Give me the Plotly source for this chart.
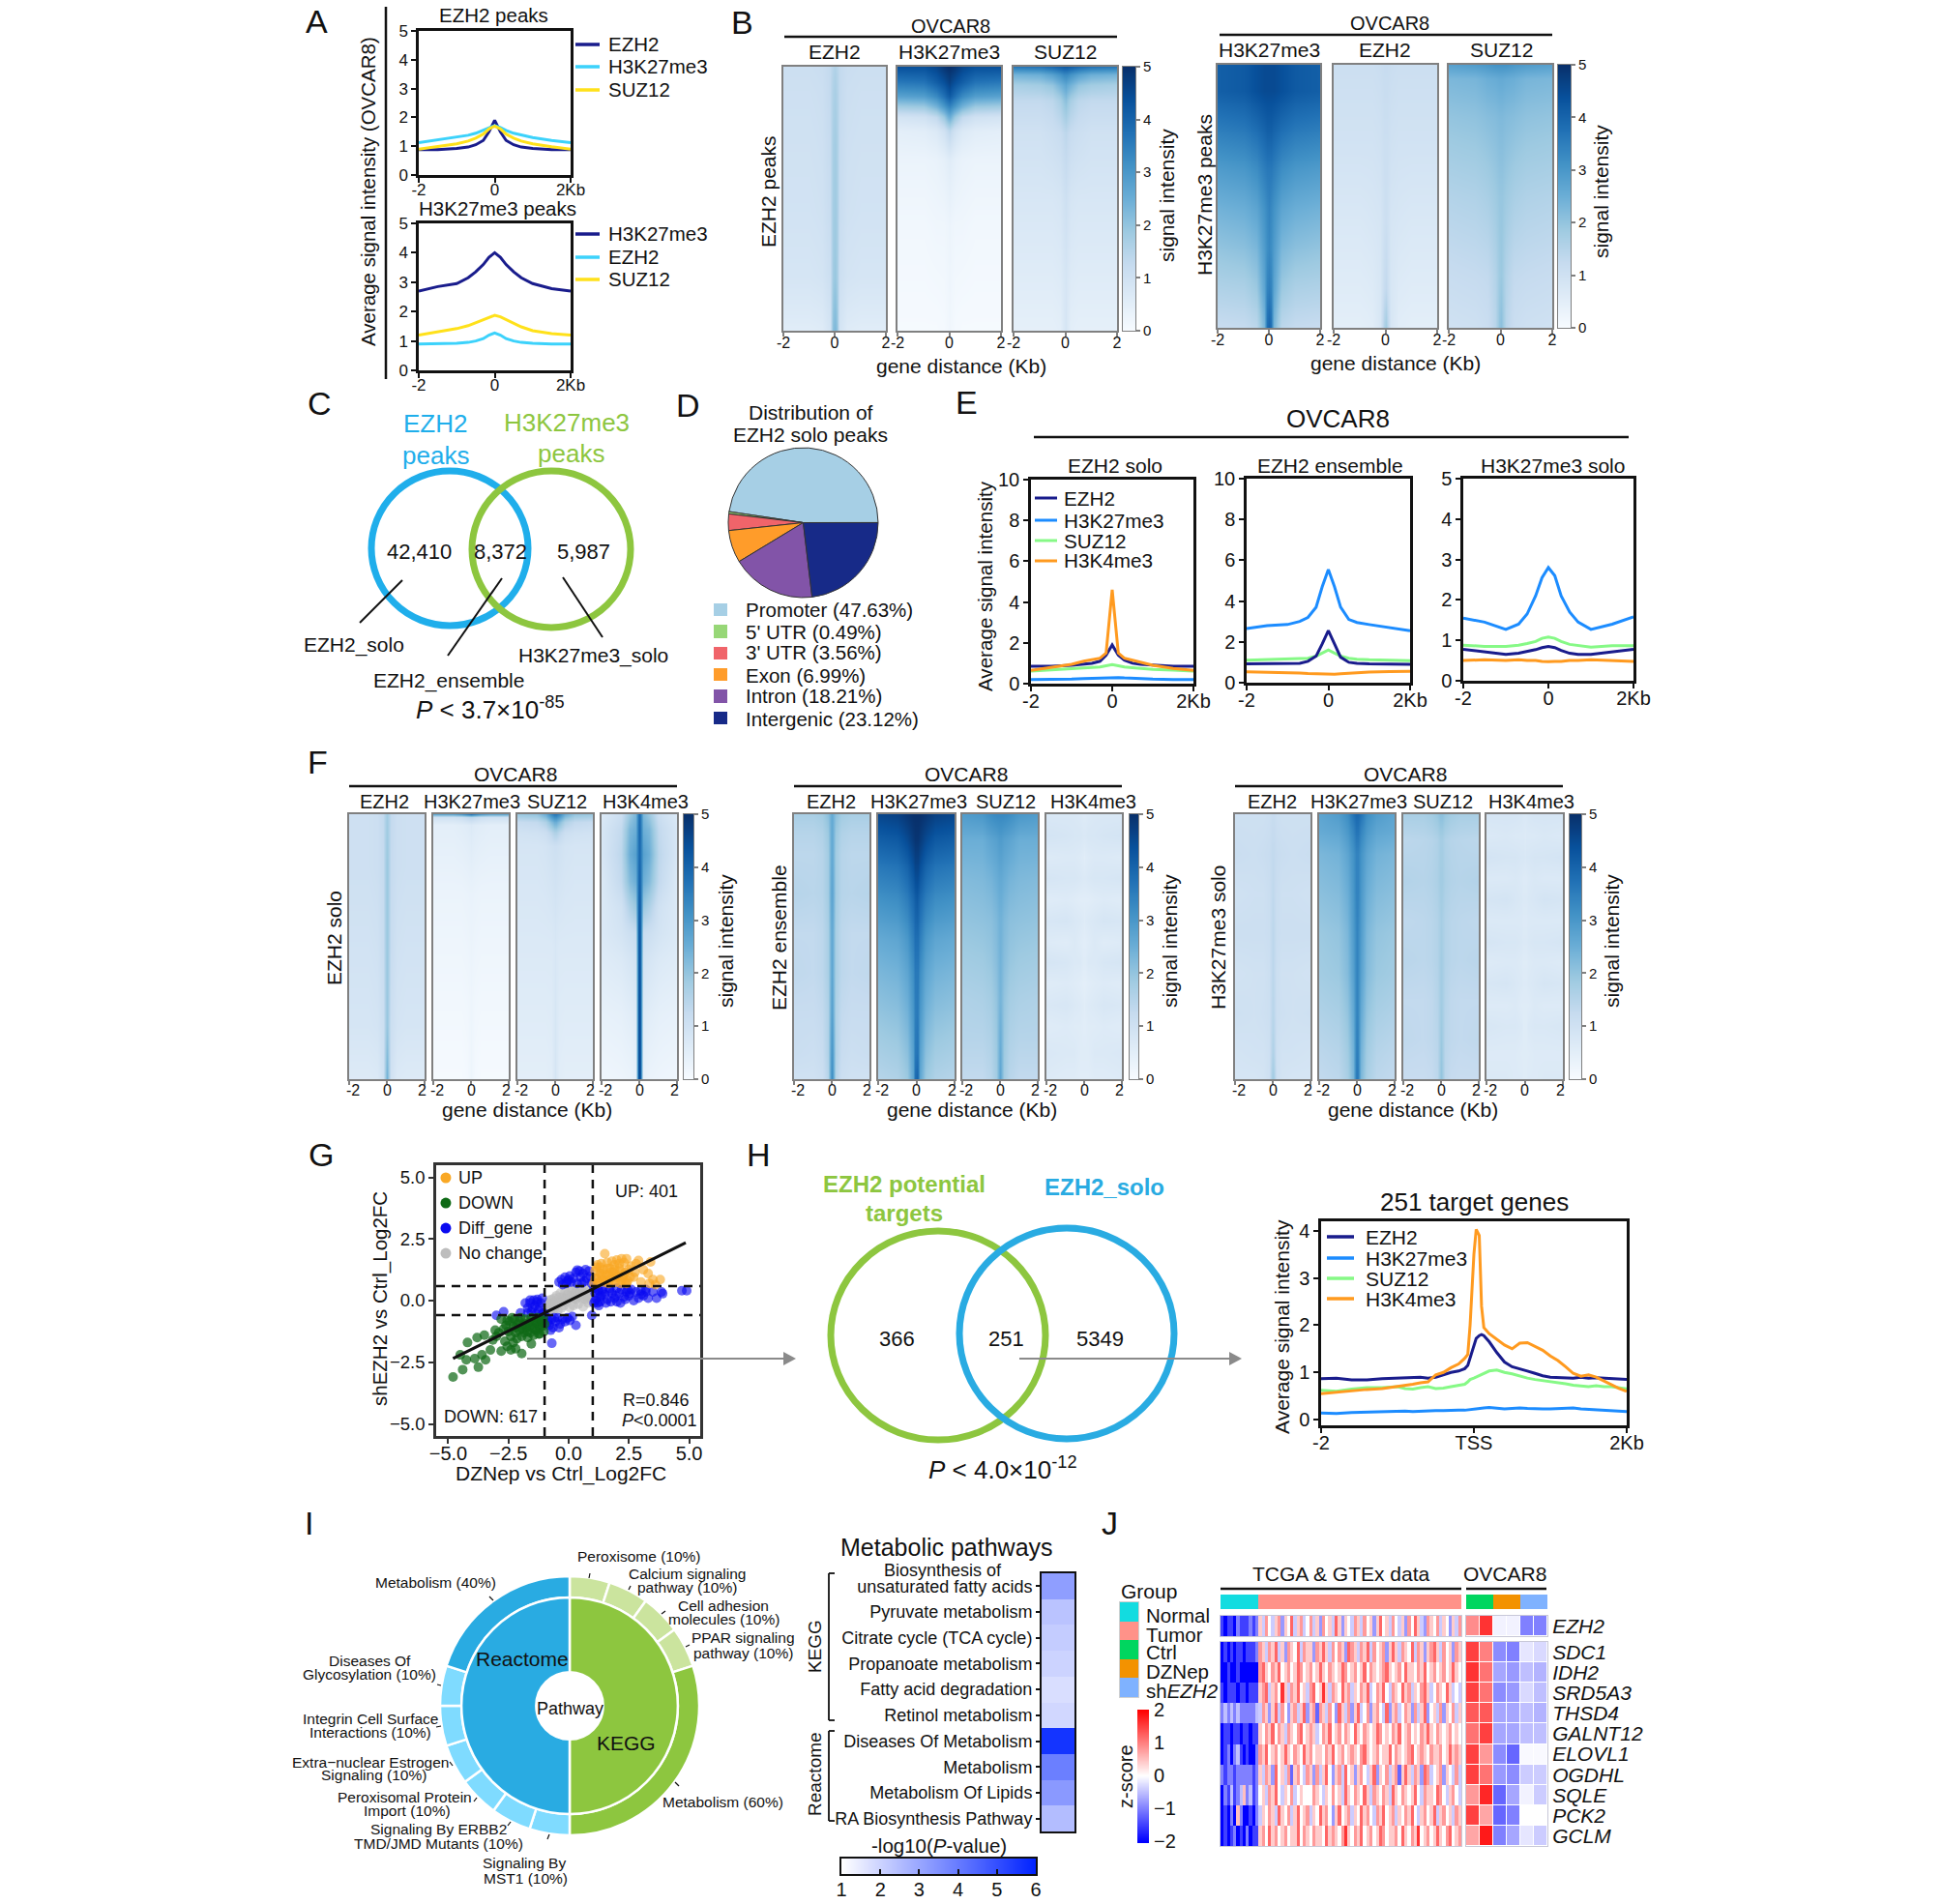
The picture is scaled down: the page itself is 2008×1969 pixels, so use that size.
import plotly.graph_objects as go

W, H = 2008, 1969
FONT = "Liberation Sans"
NAVY, CYAN, YEL = "#191C8C", "#3CD2FB", "#FFE11A"
EB, EG, EO = "#1C8CFF", "#86F986", "#FF9A1F"
VBLUE, VGREEN = "#29ABE2", "#8DC63F"
BLUES = [[0, "#F7FBFF"], [.125, "#DEEBF7"], [.25, "#C6DBEF"], [.375, "#9ECAE1"], [.5, "#6BAED6"],
         [.625, "#4292C6"], [.75, "#2171B5"], [.875, "#08519C"], [1, "#08306B"]]
BWR = [[0, "#0000FF"], [.5, "#FFFFFF"], [1, "#FF0000"]]
WB = [[0, "#FFFFFF"], [1, "#0022FF"]]

# ---------- line profiles ----------
X15 = [-2, -1.5, -1, -.7, -.5, -.3, -.15, 0, .15, .3, .5, .7, 1, 1.5, 2]
A1_EZH2 = [.88, .88, .92, .97, 1.05, 1.2, 1.5, 1.9, 1.5, 1.2, 1.05, .97, .92, .88, .88]
A1_K27 = [1.12, 1.22, 1.32, 1.38, 1.45, 1.55, 1.65, 1.72, 1.65, 1.55, 1.45, 1.38, 1.3, 1.2, 1.12]
A1_SUZ = [.9, .98, 1.08, 1.18, 1.28, 1.42, 1.6, 1.7, 1.6, 1.42, 1.28, 1.18, 1.08, .98, .9]
A2_K27 = [2.7, 2.85, 2.95, 3.15, 3.35, 3.6, 3.85, 4.0, 3.85, 3.6, 3.35, 3.15, 2.95, 2.78, 2.7]
A2_EZH2 = [.9, .9, .92, .95, 1.0, 1.08, 1.2, 1.27, 1.2, 1.08, 1.0, .95, .92, .9, .9]
A2_SUZ = [1.2, 1.3, 1.42, 1.52, 1.62, 1.72, 1.82, 1.87, 1.82, 1.72, 1.6, 1.48, 1.35, 1.25, 1.2]

E1_EZH2 = [.85, .85, .9, .95, 1.0, 1.1, 1.4, 1.9, 1.4, 1.15, 1.0, .95, .9, .85, .85]
E1_K27 = [.2, .2, .22, .25, .26, .28, .3, .32, .3, .28, .26, .24, .22, .2, .2]
E1_SUZ = [.62, .67, .72, .76, .78, .82, .88, .93, .88, .82, .78, .74, .7, .66, .62]
E1_K4 = [.65, .8, .95, 1.1, 1.18, 1.25, 1.5, 4.6, 1.5, 1.25, 1.15, 1.05, .9, .75, .65]
E2_EZH2 = [.92, .92, .93, .95, 1.05, 1.3, 1.9, 2.55, 1.9, 1.25, 1.0, .95, .92, .9, .9]
E2_K27 = [2.65, 2.8, 2.85, 3.0, 3.2, 3.7, 4.7, 5.55, 4.7, 3.7, 3.1, 2.95, 2.85, 2.7, 2.55]
E2_SUZ = [1.1, 1.12, 1.14, 1.18, 1.2, 1.3, 1.45, 1.6, 1.45, 1.3, 1.2, 1.15, 1.12, 1.1, 1.08]
E2_K4 = [.53, .52, .5, .47, .45, .43, .42, .42, .42, .44, .47, .5, .52, .55, .56]
E3_EZH2 = [.78, .72, .65, .68, .72, .77, .82, .85, .82, .75, .68, .65, .65, .72, .78]
E3_K27 = [1.55, 1.45, 1.27, 1.4, 1.65, 2.1, 2.55, 2.8, 2.6, 2.1, 1.7, 1.45, 1.27, 1.4, 1.58]
E3_SUZ = [.88, .85, .85, .88, .92, .97, 1.05, 1.08, 1.05, .97, .9, .87, .83, .87, .87]
E3_K4 = [.5, .52, .5, .52, .5, .5, .48, .47, .48, .48, .5, .5, .52, .5, .48]

T_X = [-2, -1.8, -1.6, -1.4, -1.2, -1, -.9, -.8, -.7, -.6, -.5, -.4, -.3, -.2, -.12, -.08, -.05, 0, .03, .07, .1, .13,
       .2, .3, .4, .5, .6, .7, .8, .9, 1, 1.1, 1.2, 1.3, 1.4, 1.5, 1.6, 1.7, 1.8, 1.9, 2]
T_EZH2 = [.87, .88, .84, .84, .87, .88, .9, .9, .9, .88, .9, .95, 1, 1.03, 1.08, 1.15, 1.3, 1.55, 1.72, 1.78, 1.8, 1.78,
          1.65, 1.42, 1.22, 1.12, 1.08, 1.03, .98, .93, .9, .89, .88, .88, .9, .88, .89, .88, .87, .87, .85]
T_K27 = [.14, .13, .15, .16, .16, .17, .18, .17, .18, .18, .19, .19, .2, .2, .2, .21, .22, .23, .24, .25, .25, .25,
         .26, .25, .23, .24, .25, .24, .23, .23, .23, .24, .24, .25, .23, .22, .22, .2, .19, .18, .17]
T_SUZ = [.62, .6, .65, .68, .68, .7, .66, .65, .68, .7, .66, .67, .7, .72, .75, .8, .85, .88, .9, .93, .95, .97,
         1.03, 1.05, 1, .97, .92, .88, .85, .83, .8, .78, .76, .73, .72, .7, .72, .7, .7, .67, .65]
T_K4 = [.55, .58, .62, .64, .66, .7, .72, .75, .78, .8, .95, 1.0, 1.1, 1.18, 1.3, 1.38, 2.0, 3.5,
        4.03, 3.9, 2.4, 1.95, 1.82, 1.7, 1.58, 1.5, 1.62, 1.63, 1.55, 1.47, 1.35, 1.25, 1.12, .98, .92, .95, .9, .82, .75, .66, .6]

# ---------- heatmap half profiles: [row fraction, value at |x|=2, 1, .5, .2, .07, 0] ----------
X_HALF = [2, 1, .5, .2, .07, 0]
B_EZH2 = [[0, 1.1, 1.1, 1.15, 1.3, 1.5, 1.6], [.1, 1.05, 1.05, 1.1, 1.3, 1.6, 1.7], [.3, 1.0, 1.0, 1.05, 1.25, 1.7, 1.8],
          [.55, .95, .95, 1.0, 1.2, 1.75, 1.85], [.8, .85, .85, .9, 1.1, 1.8, 1.95], [.95, .65, .65, .7, .95, 2.0, 2.2], [1, .55, .55, .6, .9, 2.1, 2.3]]
B_K27 = [[0, 4.4, 4.4, 4.6, 4.9, 5, 5], [.06, 3.6, 3.7, 4.1, 4.4, 4.6, 4.7], [.11, 2.8, 2.9, 3.3, 3.8, 4.1, 4.2], [.15, 1.8, 1.9, 2.4, 3.0, 3.3, 3.4],
         [.19, .9, 1.0, 1.3, 1.9, 2.4, 2.5], [.24, .5, .55, .7, 1.0, 1.3, 1.4], [.35, .3, .3, .35, .45, .55, .6], [.6, .15, .15, .2, .2, .25, .3], [1, .05, .05, .05, .08, .15, .2]]
B_SUZ = [[0, 3.6, 3.7, 3.9, 4.1, 4.2, 4.2], [.03, 2.4, 2.5, 2.8, 3.1, 3.3, 3.3], [.07, 1.7, 1.8, 2.0, 2.4, 2.6, 2.7], [.13, 1.3, 1.3, 1.4, 1.7, 2.0, 2.1],
         [.25, 1.0, 1.0, 1.1, 1.2, 1.35, 1.4], [.5, .8, .8, .8, .85, 1.0, 1.05], [.8, .6, .6, .6, .65, .8, .85], [1, .45, .45, .45, .5, .75, .85]]
C_K27 = [[0, 4.1, 4.2, 4.4, 4.5, 4.5, 4.5], [.1, 4.1, 4.2, 4.4, 4.5, 4.5, 4.5], [.25, 3.5, 3.6, 3.8, 4.0, 4.1, 4.1], [.4, 2.9, 3.0, 3.2, 3.5, 3.6, 3.6],
         [.55, 2.4, 2.5, 2.7, 3.1, 3.3, 3.4], [.7, 2.0, 2.1, 2.3, 2.9, 3.2, 3.3], [.85, 1.6, 1.65, 1.9, 2.7, 3.4, 3.5], [1, 1.2, 1.25, 1.4, 2.3, 3.8, 4.0]]
C_EZH2 = [[0, 1.1, 1.1, 1.1, 1.15, 1.2, 1.2], [.3, .95, .95, .95, 1.0, 1.1, 1.1], [.6, .75, .75, .8, .85, 1.05, 1.1], [.85, .6, .6, .65, .8, 1.2, 1.3], [1, .5, .5, .55, .8, 1.6, 1.8]]
C_SUZ = [[0, 2.8, 2.9, 3.0, 3.1, 3.1, 3.1], [.05, 2.3, 2.35, 2.5, 2.55, 2.6, 2.6], [.2, 2.0, 2.05, 2.15, 2.2, 2.25, 2.25], [.5, 1.55, 1.6, 1.7, 1.85, 1.95, 1.95], [.8, 1.2, 1.25, 1.3, 1.55, 1.85, 1.9], [1, 1.0, 1.05, 1.15, 1.45, 2.0, 2.1]]

F1_EZH2 = [[0, 1.05, 1.05, 1.1, 1.3, 1.7, 1.8], [.2, 1.05, 1.05, 1.1, 1.25, 1.8, 1.9], [.5, .95, .95, 1.0, 1.2, 1.8, 1.9], [.8, .85, .85, .9, 1.1, 1.8, 1.95], [1, .65, .65, .7, 1.0, 2.1, 2.4]]
F1_K27 = [[0, 2.6, 2.6, 2.9, 3.3, 3.5, 3.6], [.012, 1.0, 1.0, 1.1, 1.3, 1.4, 1.4], [.04, .5, .5, .55, .6, .65, .7], [.3, .3, .3, .3, .33, .35, .35], [.7, .15, .15, .15, .18, .22, .25], [1, .05, .05, .05, .1, .2, .25]]
F1_SUZ = [[0, 1.9, 2.0, 2.5, 3.3, 3.6, 3.6], [.03, 1.2, 1.3, 1.6, 2.2, 2.5, 2.5], [.07, .95, 1.0, 1.1, 1.4, 1.6, 1.6], [.12, .85, .85, .9, 1.0, 1.05, 1.05], [.5, .7, .7, .7, .7, .75, .8], [1, .5, .5, .5, .55, .75, .85]]
F1_K4 = [[0, .7, 1.1, 1.9, 2.3, 3.6, 3.8], [.06, .8, 1.3, 2.3, 2.5, 3.7, 3.9], [.15, .8, 1.4, 2.5, 2.8, 3.7, 3.9], [.25, .7, 1.3, 2.2, 2.5, 3.8, 4.0], [.35, .7, 1.0, 1.6, 1.9, 3.9, 4.1],
         [.45, .7, .9, 1.1, 1.2, 4.0, 4.2], [.55, .6, .7, .85, .95, 4.0, 4.3], [.75, .4, .45, .55, .65, 4.1, 4.4], [1, .2, .25, .3, .4, 4.2, 4.5]]
F2_EZH2 = [[0, 1.7, 1.7, 1.8, 2.1, 2.5, 2.6], [.07, 1.5, 1.5, 1.6, 1.9, 2.5, 2.6], [.15, 1.4, 1.4, 1.5, 1.8, 2.5, 2.6], [.3, 1.5, 1.45, 1.5, 1.8, 2.6, 2.7], [.45, 1.3, 1.3, 1.4, 1.7, 2.5, 2.6],
           [.6, 1.35, 1.3, 1.4, 1.7, 2.5, 2.7], [.75, 1.2, 1.2, 1.3, 1.6, 2.6, 2.8], [.9, 1.15, 1.1, 1.2, 1.6, 2.8, 3.0], [1, 1.0, 1.0, 1.1, 1.5, 2.9, 3.2]]
F2_K27 = [[0, 4.6, 4.7, 4.9, 5, 5, 5], [.1, 4.1, 4.2, 4.5, 4.8, 4.9, 4.9], [.2, 3.6, 3.7, 4.0, 4.4, 4.6, 4.6], [.33, 3.1, 3.2, 3.5, 3.9, 4.1, 4.2], [.47, 2.6, 2.7, 3.0, 3.5, 3.8, 3.8],
          [.6, 2.3, 2.4, 2.7, 3.2, 3.6, 3.6], [.75, 2.0, 2.1, 2.4, 3.0, 3.5, 3.6], [.9, 1.7, 1.8, 2.1, 2.8, 3.6, 3.7], [1, 1.5, 1.6, 1.9, 2.7, 3.8, 4.0]]
F2_SUZ = [[0, 2.9, 3.0, 3.2, 3.3, 3.3, 3.3], [.1, 2.5, 2.5, 2.7, 2.8, 2.9, 2.9], [.25, 2.2, 2.25, 2.35, 2.5, 2.6, 2.6], [.4, 2.0, 2.05, 2.1, 2.25, 2.4, 2.4], [.55, 1.8, 1.85, 1.95, 2.15, 2.35, 2.4],
          [.7, 1.6, 1.65, 1.75, 2.0, 2.3, 2.35], [.85, 1.5, 1.5, 1.6, 1.9, 2.4, 2.5], [1, 1.3, 1.3, 1.45, 1.8, 2.5, 2.7]]
F2_K4 = [[0, .75, .75, .75, .7, .65, .65], [.08, .9, .85, .8, .8, .75, .75], [.16, .65, .7, .7, .65, .6, .55], [.24, .85, .8, .8, .75, .7, .7], [.32, .6, .65, .6, .55, .55, .55], [.4, .8, .85, .75, .7, .65, .6],
         [.48, .65, .6, .7, .6, .55, .55], [.56, .85, .8, .7, .7, .6, .6], [.64, .6, .65, .6, .55, .5, .5], [.72, .75, .8, .7, .65, .6, .55], [.8, .6, .65, .6, .6, .55, .55], [.9, .75, .7, .7, .6, .6, .6], [1, .65, .6, .6, .55, .55, .55]]
F3_EZH2 = [[0, 1.05, 1.05, 1.05, 1.1, 1.2, 1.2], [.15, 1.15, 1.1, 1.15, 1.2, 1.3, 1.3], [.3, 1.0, 1.05, 1.05, 1.15, 1.3, 1.35], [.45, 1.1, 1.1, 1.1, 1.15, 1.35, 1.4], [.6, .95, 1.0, 1.0, 1.1, 1.35, 1.4], [.75, 1.05, 1.0, 1.05, 1.1, 1.4, 1.45], [.9, .9, .95, .95, 1.05, 1.5, 1.6], [1, .85, .85, .9, 1.05, 1.7, 1.8]]
F3_K27 = [[0, 2.7, 2.9, 3.2, 3.7, 3.9, 3.9], [.06, 2.6, 2.7, 3.0, 3.4, 3.7, 3.7], [.15, 2.3, 2.4, 2.7, 3.1, 3.4, 3.4], [.3, 2.1, 2.2, 2.5, 3.0, 3.4, 3.4], [.45, 1.9, 2.0, 2.3, 2.9, 3.3, 3.4], [.6, 1.8, 1.9, 2.2, 2.8, 3.3, 3.4], [.75, 1.6, 1.7, 2.0, 2.6, 3.3, 3.4], [.9, 1.4, 1.5, 1.8, 2.4, 3.4, 3.5], [1, 1.3, 1.4, 1.7, 2.3, 3.5, 3.6]]
F3_SUZ = [[0, 1.7, 1.7, 1.8, 1.95, 2.1, 2.1], [.1, 1.4, 1.45, 1.5, 1.6, 1.75, 1.75], [.25, 1.55, 1.5, 1.55, 1.65, 1.8, 1.8], [.4, 1.35, 1.4, 1.45, 1.55, 1.7, 1.75], [.55, 1.45, 1.4, 1.45, 1.55, 1.75, 1.8], [.7, 1.3, 1.3, 1.35, 1.5, 1.75, 1.8], [.85, 1.35, 1.3, 1.35, 1.45, 1.8, 1.9], [1, 1.2, 1.2, 1.25, 1.4, 1.9, 2.0]]
F3_K4 = [[0, .85, .85, .85, .8, .75, .75], [.08, .7, .75, .7, .7, .7, .65], [.16, .9, .85, .85, .8, .8, .75], [.24, .7, .7, .75, .7, .65, .65], [.32, .85, .9, .8, .75, .7, .7], [.4, .7, .7, .7, .7, .65, .65],
         [.48, .85, .8, .8, .75, .7, .7], [.56, .65, .7, .7, .65, .6, .6], [.64, .8, .85, .75, .7, .65, .65], [.72, .65, .65, .7, .6, .6, .6], [.8, .8, .75, .75, .7, .6, .6], [.9, .65, .65, .65, .6, .6, .6], [1, .7, .7, .65, .65, .6, .6]]
CB_VALUES = [0, 1, 2, 3, 4, 5]

# ---------- pies ----------
D_LABELS = ["Promoter (47.63%)", "5' UTR (0.49%)", "3' UTR (3.56%)", "Exon (6.99%)", "Intron (18.21%)", "Intergenic (23.12%)"]
D_VALUES = [47.63, 0.49, 3.56, 6.99, 18.21, 23.12]
D_COLORS = ["#A6CFE5", "#97D777", "#F0646A", "#FF9C2A", "#8254A8", "#172A88"]
I_OUTER = [10, 10, 10, 10, 60, 10, 10, 10, 10, 10, 10, 40]
I_OUTER_C = ["#CBE49E"] * 4 + [VGREEN] + ["#7FDBFF"] * 6 + [VBLUE]
I_INNER = [50, 50]
I_INNER_C = [VGREEN, VBLUE]

# ---------- panel G scatter ----------
GRAY_X = [-.95, -.9, -.85, -.8, -.75, -.7, -.65, -.6, -.55, -.5, -.45, -.4, -.35, -.3, -.25, -.2, -.15, -.1, -.05, 0, .05, .1, .15, .2, .25, .3, .35, .4, .45, .5, .55, .6, .65, .7, .75, .8, .85, .9, .95,
          -.9, -.75, -.6, -.45, -.3, -.15, 0, .15, .3, .45, .6, .75, .9, -.85, -.7, -.55, -.4, -.25, -.1, .05, .2, .35, .5, .65, .8]
GRAY_Y = [-.45, -.2, -.3, .02, -.35, -.1, -.42, .1, -.25, .2, -.4, -.05, .3, -.3, .15, -.2, .38, -.05, .25, .45, -.28, .12, .48, -.2, .3, .05, .52, -.15, .35, .1, .52, -.25, .28, .05, .5, -.1, .3, .12, -.05,
          -.35, -.15, -.3, -.12, .02, .1, .1, .2, .3, .2, .35, .15, .4, -.1, .05, -.05, .12, -.05, .05, .2, .08, .15, .3, .1, .2]
BLUE_X = [-.4, -.3, -.25, -.15, -.05, .05, .1, .2, .3, .36, .45, .5, .6, .7, .75, .85, .9, .95, .35, .55, -.1, .0, .65,
          -1.8, -1.7, -1.6, -1.55, -1.45, -1.4, -1.3, -1.25, -1.15, -1.1, -1.7, -1.5, -1.35, -1.2, -1.05, -1.6, -1.3, -2, -2.7, -3, -1.1,
          -.95, -.85, -.8, -.7, -.65, -.55, -.45, -.35, -.25, -.15, -.05, .05, .15, -.9, -.75, -.6, -.4, -.7, .3, .96,
          1.05, 1.1, 1.15, 1.2, 1.25, 1.3, 1.4, 1.5, 1.6, 1.7, 1.8, 1.9, 2, 2.1, 2.2, 2.3, 2.4, 2.5, 2.6, 2.7, 2.8, 2.9, 3, 3.1, 3.2, 3.3, 3.5, 3.65, 3.9, 4.7, 4.9,
          1.1, 1.25, 1.35, 1.55, 1.75, 1.95, 2.15, 2.35, 2.55, 1.05, 1.2, 1.4, 1.7, 2.0, 2.45, 3.2, 1.3, 3.0, 3.85]
BLUE_Y = [.75, .85, .65, .95, .8, 1.0, .75, .9, 1.15, 1.24, 1.2, .95, 1.1, 1.25, .9, 1.2, .98, .7, .7, .72, .7, .85, .78,
          -.1, -.3, .02, -.45, .02, -.2, .05, -.4, -.1, .1, -.5, -.3, -.55, -.25, -.5, -.1, -.05, -.5, -.45, -.6, -.58,
          -.65, -.8, -1.0, -.75, -1.1, -.85, -.7, -.95, -.75, -.85, -.7, -.8, -.65, -.9, -1.2, -.7, -1.1, -1.73, -1.0, -.6,
          .5, .3, .1, -.1, .4, .15, .45, .25, .05, .4, .3, .1, -.05, .3, .45, .15, .35, .2, .45, .0, .35, .1, .4, .2, .35, .1, .35, .1, .28, .4, .4,
          .0, -.2, .2, -.1, -.05, .2, -.1, .05, .3, -.1, .45, .35, .5, .5, .45, .45, -.05, .25, .35]
ORANGE_X = [1.05, 1.1, 1.15, 1.2, 1.25, 1.3, 1.35, 1.4, 1.45, 1.5, 1.55, 1.6, 1.65, 1.7, 1.75, 1.8, 1.85, 1.9, 1.95, 2, 2.05, 2.1, 2.15, 2.2, 2.25, 2.3, 2.35, 2.4, 2.45, 2.5, 2.6, 2.7, 2.8, 2.9, 3.0, 3.1, 3.3, 3.35, 3.4, 3.5, 3.6, 3.8,
            1.1, 1.2, 1.3, 1.4, 1.5, 1.6, 1.7, 1.8, 1.9, 2.0, 2.1, 2.2, 2.3, 2.4, 1.15, 1.35, 1.55, 1.75, 1.95, 2.15, 2.35, 2.55, 2.75]
ORANGE_Y = [.7, 1.2, .9, 1.45, .75, 1.1, 1.5, .85, 1.25, 1.9, 1.05, 1.55, .7, 1.3, .9, 1.6, 1.15, 1.45, .75, 1.65, 1.0, 1.3, .7, 1.7, .95, 1.55, 1.15, 1.7, .8, 1.25, 1.4, .95, 1.5, 1.63, .75, 1.25, 1.1, .7, 1.57, .85, .65, .85,
            .9, .7, 1.35, 1.0, .75, 1.3, 1.0, .8, 1.25, .95, 1.5, .8, 1.05, .7, 1.35, 1.1, .8, 1.15, 1.05, 1.2, .75, .95, 1.15]
GREEN_X = [-4.8, -4.4, -3.75, -3.9, -4.25, -3.45, -4.2, -3.5, -3.8, -3.25, -2.8, -2.4, -1.95, -1.55, -2.8, -4.5, -3.6, -3.15, -3.0, -2.65, -2.55, -2.3, -2.2, -1.25,
           -2.6, -2.5, -2.45, -2.4, -2.3, -2.25, -2.2, -2.15, -2.1, -2.05, -2, -1.95, -1.9, -1.85, -1.8, -1.75, -1.7, -1.65, -1.6, -1.55, -1.5, -1.45, -1.4, -1.35, -1.3, -1.25, -1.2, -1.15, -1.1, -1.05, -1,
           -2.55, -2.35, -2.2, -2.05, -1.9, -1.8, -1.7, -1.6, -1.5, -1.4, -1.3, -1.2, -1.1, -1.03, -2.7, -2.9, -3.05]
GREEN_Y = [-3.1, -2.8, -2.7, -2.35, -2.4, -2.4, -1.7, -1.4, -1.5, -2.0, -2.05, -2.0, -2.15, -1.75, -.75, -2.2, -2.2, -1.6, -1.45, -1.65, -1.85, -1.7, -1.95, -1.35,
           -1.0, -1.25, -.85, -1.45, -1.05, -.75, -1.3, -1.55, -.95, -1.2, -.7, -1.45, -1.0, -1.3, -.75, -1.1, -1.5, -.9, -1.3, -.7, -1.1, -1.4, -.85, -1.2, -.7, -1.0, -1.35, -.8, -1.05, -.7, -.95,
           -.8, -.7, -1.1, -.85, -1.15, -.95, -1.25, -1.0, -.85, -1.15, -.9, -1.1, -.85, -1.25, -1.15, -1.3, -1.2]
LEG_G_LABELS = ["UP", "DOWN", "Diff_gene", "No change"]
LEG_G_COLORS = ["#F9A825", "#0F6A16", "#0A0AF0", "#BDBDBD"]
LEG_G_X = [-5.1, -5.1, -5.1, -5.1]
LEG_G_Y = [4.98, 3.96, 2.94, 1.92]

# ---------- pathway heatmap ----------
PATHWAYS = ["unsaturated fatty acids", "Pyruvate metabolism", "Citrate cycle (TCA cycle)", "Propanoate metabolism",
            "Fatty acid degradation", "Retinol metabolism", "Diseases Of Metabolism", "Metabolism", "Metabolism Of Lipids", "RA Biosynthesis Pathway"]
PATH_P = [3.2, 2.35, 2.15, 2.0, 1.75, 1.9, 5.6, 3.9, 3.3, 2.5]

# ---------- panel J heatmap (half z units for normal columns, 0.4 z units for tumor columns) ----------
GENES = ["EZH2", "SDC1", "IDH2", "SRD5A3", "THSD4", "GALNT12", "ELOVL1", "OGDHL", "SQLE", "PCK2", "GCLM"]
NORMAL = [
    [-3, -4, -3, -3, -4, -2, -3, -3, -3, -2, -3, -2],
    [-4, -3, -4, -3, -4, -3, -3, -4, -3, -3, -3, -2],
    [-4, -4, -3, -4, -4, -3, -4, -4, -4, -4, -4, -4],
    [-3, -4, -3, -3, -3, -4, -3, -3, -4, -3, -3, -3],
    [-2, -1, -2, -1, -2, -1, -2, -2, -2, -2, -2, -1],
    [-4, -3, -3, -4, -3, -3, -4, -3, -3, -4, -3, -3],
    [-4, -3, -2, -4, -2, -1, -3, -4, -3, -4, -4, -2],
    [-2, -3, -2, -2, -3, -2, -2, -2, -2, -2, -3, -2],
    [-4, -2, -3, -1, -3, -2, -1, 1, -2, -1, -3, -2],
    [-4, -3, -4, -2, -4, 1, -2, -4, -4, -3, -4, -2],
    [-4, -3, -4, -3, -2, -4, -3, -4, -2, -4, -3, -3],
]
TUMOR = [
    [1, -1, 2, 0, -1, 1, 2, -2,  1, 0, 3, -1, 1, 2, -1, 0,  2, -1, 1, -2, 2, 0, 1, -1,  3, 1, -2, 1, 0, -1, 2, 1,  -1, 2, 0, 1, -2, 1, 3, 0,  1, -1, 2, 0, -1, 1, -2, 2,  0, 3, 1, -1, -2, 2, 1, 0,  2, -1, 1, 0, -2, 1, -1, 2],
    [2, 1, -1, 2, 1, 3, -1, 1,  -2, 2, 1, 0, 3, -1, 2, 1,  1, -2, 2, 1, 3, 1, -1, 2,  0, 2, 1, -2, 3, 2, 1, -1,  2, 1, 3, -1, 2, 0, 1, 2,  -2, 1, 3, 1, -1, 2, 1, 0,  3, -1, 2, 1, -2, 1, 2, 3,  1, -1, 2, 0, 1, -2, 2, 1],
    [2, 3, 1, 0, 2, 1, 3, 0,  1, 2, 0, 1, 3, 2, 0, 1,  2, 0, 1, 3, 1, 0, 2, 1,  0, 1, 3, 2, 0, 1, 2, 0,  1, 3, 0, 2, 1, 0, 1, 2,  3, 1, 0, 1, 2, 0, 3, 1,  1, 0, 2, 1, 3, 0, 1, 2,  0, 1, 2, 0, 1, 3, 1, 0],
    [1, 2, 3, -1, 1, 2, 0, 4,  1, -1, 2, 1, 3, 0, 1, -1,  2, 3, 0, 1, 4, 1, -1, 2,  1, 0, 3, 1, 2, -1, 1, 0,  2, 1, 3, -1, 0, 2, 1, 3,  0, -1, 2, 1, 0, 3, 1, 2,  -1, 1, 0, 2, 3, 1, -1, 0,  2, 1, 0, 3, 1, -1, 0, -1],
    [-1, 2, 1, -2, 1, 3, -1, 2,  0, -2, 1, 2, -1, 1, 3, -2,  1, 2, -3, 2, 1, -1, 2, 0,  -2, 3, 1, -1, 2, -2, 1, 3,  -1, 0, 2, -2, 1, 2, 0, -1,  3, -2, 1, 2, -1, 0, 2, 1,  -2, 2, -1, 1, 3, -2, 0, 1,  -1, 2, -2, 1, 0, 2, -1, 1],
    [1, 0, 2, 1, 3, 0, 2, 1,  -1, 2, 1, 0, 2, 3, 0, 1,  2, 1, -1, 0, 2, 1, 3, 0,  1, 2, 0, 2, 1, 0, 3, 1,  0, 2, 1, 0, 1, 3, 2, 0,  1, 0, 2, 1, 3, 0, 1, 2,  0, 1, 0, 2, 1, 3, 1, 0,  2, 1, 0, 1, 2, 0, 1, 0],
    [2, 1, 3, 0, 1, 2, 0, 1,  3, 1, 0, 2, 1, 0, 3, 1,  2, 0, 1, 1, 0, 2, 1, 3,  0, 1, 2, 0, 1, 2, 1, 0,  2, 3, 1, 0, 1, 2, 0, 1,  1, 3, 0, 2, 1, 0, 1, 2,  3, 0, 1, 2, 1, 0, 2, 1,  1, 2, 0, 1, 3, 1, 2, 1],
    [1, -1, 2, 1, -2, 3, 0, 1,  -1, 2, -3, 1, 2, 0, -1, 2,  1, -2, 2, -1, 1, 3, 0, -2,  1, 2, -1, 3, 0, 1, -2, 1,  2, 0, -1, 1, 3, -2, 1, 0,  2, -1, 1, 2, -3, 1, 3, 1,  -1, 2, 1, -2, 3, 2, -1, 0,  1, 2, -2, 1, 0, -1, 2, -1],
    [0, 1, -1, 2, 1, 3, 0, -1,  1, 0, 2, -1, 0, 1, 0, 0,  0, 2, 1, 0, -1, 1, 0, 2,  0, 1, -1, 3, 1, 0, 2, 1,  0, 3, 1, -1, 2, 1, 0, 2,  1, -1, 3, 1, 0, 2, 1, 0,  1, 3, 0, -1, 2, 1, 1, 0,  3, 2, 0, -1, 1, 2, 0, -1],
    [-1, 1, 0, 2, 1, -1, 3, 1,  0, 2, -1, 1, 3, 0, 1, 2,  -1, 1, 0, 3, 1, 2, 0, -2,  1, 3, 0, 1, 2, -1, 1, 0,  3, 1, 2, 0, -1, 2, 1, 3,  0, 1, 2, -1, 1, 0, 2, 1,  3, 0, -1, 1, 2, 0, 1, 3,  -1, 1, 2, 0, 1, -1, 2, 1],
    [1, 2, 0, 3, 1, 2, 0, 1,  2, 0, 1, 1, 3, 0, 2, 1,  0, 2, 1, 1, 0, 3, 1, 2,  1, 0, 2, 4, 1, 0, 2, 1,  3, 0, 1, 2, 0, 1, 3, 2,  0, 1, 1, 2, 0, 3, 1, 0,  2, 1, 4, 0, 1, 2, 0, 1,  3, 1, 0, 2, 3, 0, 1, 2],
]
OVCAR = [
    [.9, 1.6, -.1, -.1, -1.0, -1.0],
    [1.5, 1.0, -.9, -1.0, -.2, -.3],
    [1.6, 1.1, -.7, -.8, -.5, -.6],
    [1.5, 1.1, -.9, -.8, -.3, -.5],
    [1.3, 1.3, -.7, -.7, -.5, -.6],
    [1.1, 1.5, -.7, -.7, -.5, -.5],
    [1.5, .8, -.9, -1.2, -.05, -.05],
    [1.5, 1.1, -.8, -.9, -.4, -.4],
    [.8, 1.7, -1.2, -.7, -.1, -.4],
    [1.5, .7, -1.2, -1.0, 0, 0],
    [.7, 1.8, -1.0, -.7, -.2, -.4],
]
GROUP_NAMES = ["Normal", "Tumor", "Ctrl", "DZNep", "sh<i>EZH2</i>"]
GROUP_CODE = [0, 1, 2, 3, 4]
GROUP_COLORS = ["#12DCE0", "#FF9289", "#00D65F", "#F39200", "#7FB2FF"]
GROUPSCALE = [[0, GROUP_COLORS[0]], [.2, GROUP_COLORS[0]], [.2, GROUP_COLORS[1]], [.4, GROUP_COLORS[1]], [.4, GROUP_COLORS[2]],
              [.6, GROUP_COLORS[2]], [.6, GROUP_COLORS[3]], [.8, GROUP_COLORS[3]], [.8, GROUP_COLORS[4]], [1, GROUP_COLORS[4]]]
ZSCORE_BAR = [-2, -1.5, -1, -.5, 0, .5, 1, 1.5, 2]

fig = go.Figure()
layout = dict(width=W, height=H, margin=dict(l=0, r=0, t=0, b=0, pad=0, autoexpand=False), paper_bgcolor="white", plot_bgcolor="white",
              showlegend=False, font=dict(family=FONT, color="#111"))
annots, shapes = [], []
counter = [0]


def T(x, y, text, size=21, anchor="center", color="#111", angle=0):
    annots.append(dict(x=x / W, y=1 - y / H, xref="paper", yref="paper", text=text, showarrow=False, xanchor=anchor, yanchor="middle",
                       align=anchor, textangle=-angle, font=dict(family=FONT, size=size, color=color)))


def L(x0, y0, x1, y1, w=2, color="#111", dash="solid"):
    shapes.append(dict(type="line", xref="paper", yref="paper", x0=x0 / W, x1=x1 / W, y0=1 - y0 / H, y1=1 - y1 / H,
                       line=dict(color=color, width=w, dash=dash)))


def circle(l, t, r, b, color, w=7):
    shapes.append(dict(type="circle", xref="paper", yref="paper", x0=l / W, x1=r / W, y0=1 - b / H, y1=1 - t / H,
                       line=dict(color=color, width=w), fillcolor="rgba(0,0,0,0)"))


def arrow(x0, x1, y):
    L(x0, y, x1 - 10, y, 1.8, "#8A8A8A")
    shapes.append(dict(type="path", xref="paper", yref="paper", fillcolor="#8A8A8A", line=dict(width=0),
                       path=f"M {(x1-13)/W} {1-(y-7)/H} L {x1/W} {1-y/H} L {(x1-13)/W} {1-(y+7)/H} Z"))


def axes(box, xr, yr, xt=None, xl=None, yt=None, yl=None, frame="#111", lw=2.5, tick=16, ticklen=5, yside="left", xticks="outside", yticks="outside",
         xlabels=True, ytick=None, xstand=-7):
    counter[0] += 1
    n = counter[0]
    l, t, r, b = box
    sx = "" if n == 1 else str(n)
    base = dict(showgrid=False, zeroline=False, showline=True, mirror=True, linecolor=frame, linewidth=lw, fixedrange=True, ticklen=ticklen,
                tickwidth=1.5, tickcolor=frame, tickfont=dict(family=FONT, size=tick, color="#111"))
    xa = dict(base, domain=[l / W, r / W], range=xr, anchor="y" + sx, ticks=xticks if xt else "", showticklabels=bool(xt) and xlabels, ticklabelstandoff=xstand)
    ya = dict(base, domain=[1 - b / H, 1 - t / H], range=yr, anchor="x" + sx, ticks=yticks if yt else "", showticklabels=bool(yt), side=yside)
    if ytick:
        ya["tickfont"] = dict(family=FONT, size=ytick, color="#111")
    if xt:
        xa.update(tickmode="array", tickvals=xt, ticktext=xl or [str(v) for v in xt])
    if yt:
        ya.update(tickmode="array", tickvals=yt, ticktext=yl or [str(v) for v in yt])
    layout["xaxis" + sx] = xa
    layout["yaxis" + sx] = ya
    return "x" + sx, "y" + sx


def lines(box, x, series, colors, ymax, xlabels=("-2", "0", "2Kb"), xt=(-2, 0, 2), yt=None, w=3, tick=17, ymin=0):
    xa, ya = axes(box, [-2, 2], [ymin, ymax], list(xt), list(xlabels), yt or list(range(0, int(ymax) + 1)), tick=tick)
    for s, c in zip(series, colors):
        fig.add_trace(go.Scatter(x=x, y=s, mode="lines", line=dict(color=c, width=w), xaxis=xa, yaxis=ya, hoverinfo="skip"))


def heat_profile(box, rows, tick=16, inset=0):
    xa, ya = axes(box, [-2, 2], [1, 0], [-2, 0, 2], ["-2", "0", "2"], frame="#808080", lw=1.5, tick=tick, ticklen=4, xlabels=not inset)
    if inset:
        l, t, r, b = box
        T(l + inset, b + 11, "-2", tick)
        T((l + r) / 2, b + 11, "0", tick)
        T(r - inset + 1, b + 11, "2", tick)
    x = [-v for v in X_HALF] + X_HALF[-2::-1]
    y = [r[0] for r in rows]
    z = [list(r[1:]) + list(r[-2:0:-1]) for r in rows]
    fig.add_trace(go.Heatmap(x=x, y=y, z=z, zmin=0, zmax=5, colorscale=BLUES, zsmooth="best", showscale=False, xaxis=xa, yaxis=ya, hoverinfo="skip"))


def colorbar(box, tick=15):
    xa, ya = axes(box, [0, 1], [0, 5], yt=CB_VALUES, frame="#808080", lw=1.2, tick=tick, ticklen=4, yside="right")
    fig.add_trace(go.Heatmap(x=[0, 1], y=CB_VALUES, z=[[v, v] for v in CB_VALUES], zmin=0, zmax=5, colorscale=BLUES, zsmooth="best",
                             showscale=False, xaxis=xa, yaxis=ya, hoverinfo="skip"))


# ---------- panel letters ----------
for ch, x, y in [("A", 327, 22), ("B", 767, 23), ("C", 330, 417), ("D", 711, 419), ("E", 999, 416), ("F", 328, 788), ("G", 332, 1194),
                 ("H", 784, 1194), ("I", 319, 1575), ("J", 1147, 1575)]:
    T(x, y, ch, 34)

# ---------- A ----------
lines((433, 32, 590, 181), X15, [A1_EZH2, A1_K27, A1_SUZ], [NAVY, CYAN, YEL], 5)
lines((433, 231, 590, 383), X15, [A2_K27, A2_EZH2, A2_SUZ], [NAVY, CYAN, YEL], 5)
L(399, 7, 399, 392, 2.5)
T(380, 198, "Average signal intensity (OVCAR8)", 20.5, angle=90)
T(510, 16, "EZH2 peaks", 20.5)
T(514, 216, "H3K27me3 peaks", 20.5)
for y, name, c in [(46, "EZH2", NAVY), (69, "H3K27me3", CYAN), (93, "SUZ12", YEL), (242, "H3K27me3", NAVY), (266, "EZH2", CYAN), (289, "SUZ12", YEL)]:
    L(595, y, 620, y, 3.5, c)
    T(627, y, name, 20.5, "left")

# ---------- B ----------
for box, r in [((810, 69, 916, 342), B_EZH2), ((928, 69, 1035, 342), B_K27), ((1048, 69, 1155, 342), B_SUZ),
               ((1259, 67, 1365, 339), C_K27), ((1379, 67, 1486, 339), C_EZH2), ((1498, 67, 1605, 339), C_SUZ)]:
    heat_profile(box, r)
colorbar((1161, 69, 1174, 342))
colorbar((1611, 67, 1624, 339))
L(811, 38, 1155, 38, 2.5)
L(1261, 36, 1605, 36, 2.5)
T(983, 27, "OVCAR8", 20)
T(1437, 24, "OVCAR8", 20)
for x, s in [(863, "EZH2"), (981, "H3K27me3"), (1101, "SUZ12")]:
    T(x, 53, s)
for x, s in [(1312, "H3K27me3"), (1432, "EZH2"), (1552, "SUZ12")]:
    T(x, 51, s)
T(994, 378, "gene distance (Kb)")
T(1443, 375, "gene distance (Kb)")
T(794, 198, "EZH2 peaks", angle=90)
T(1245, 202, "H3K27me3 peaks", angle=90)
T(1206, 202, "signal intensity", angle=90)
T(1655, 198, "signal intensity", angle=90)

# ---------- C ----------
circle(384, 487, 546, 647, "#1FAEEB")
circle(488, 487, 652, 649, VGREEN)
T(450, 438, "EZH2", 26, color="#1FAEEB")
T(450, 471, "peaks", 26, color="#1FAEEB")
T(586, 437, "H3K27me3", 26, color=VGREEN)
T(590, 469, "peaks", 26, color=VGREEN)
T(433, 570, "42,410", 22)
T(517, 570, "8,372", 22)
T(603, 570, "5,987", 22)
L(416, 600, 372, 644, 2)
L(519, 598, 463, 678, 2)
L(582, 597, 623, 659, 2)
T(366, 667, "EZH2_solo")
T(464, 704, "EZH2_ensemble")
T(613, 678, "H3K27me3_solo")
T(507, 732, "<i>P</i> &lt; 3.7×10<sup>-85</sup>", 26)

# ---------- D ----------
fig.add_trace(go.Pie(values=D_VALUES, labels=D_LABELS, sort=False, direction="counterclockwise", rotation=278.5, textinfo="none", hoverinfo="skip",
                     marker=dict(colors=D_COLORS, line=dict(color="#333", width=1)),
                     domain=dict(x=[753 / W, 908 / W], y=[1 - 618 / H, 1 - 463 / H])))
T(838, 426, "Distribution of")
T(838, 449, "EZH2 solo peaks")
LEG_D_X = [0]
xa, ya = axes((738, 620, 752, 754), [-.5, .5], [5.5, -.5], frame="#FFFFFF", lw=0)
fig.add_trace(go.Heatmap(x=LEG_D_X, y=[0, 1, 2, 3, 4, 5], z=[[i] for i in range(6)], ygap=9, zmin=0, zmax=5, showscale=False, xaxis=xa, yaxis=ya, hoverinfo="skip",
                         colorscale=[[i / 5, c] for i, c in enumerate(D_COLORS)]))
for y, s in zip([631, 653, 675, 698, 720, 743], D_LABELS):
    T(769, y, s, 20.5, "left")

# ---------- E ----------
lines((1066, 496, 1234, 707), X15, [E1_K27, E1_SUZ, E1_EZH2, E1_K4], [EB, EG, NAVY, EO], 10, yt=[0, 2, 4, 6, 8, 10], tick=20)
lines((1289, 495, 1458, 706), X15, [E2_K27, E2_SUZ, E2_EZH2, E2_K4], [EB, EG, NAVY, EO], 10, yt=[0, 2, 4, 6, 8, 10], tick=20)
lines((1513, 495, 1689, 704), X15, [E3_K27, E3_SUZ, E3_EZH2, E3_K4], [EB, EG, NAVY, EO], 5, tick=20)
L(1069, 452, 1684, 452, 2.5)
T(1383, 433, "OVCAR8", 26)
T(1153, 482, "EZH2 solo")
T(1375, 482, "EZH2 ensemble")
T(1605, 482, "H3K27me3 solo")
T(1018, 606, "Average signal intensity", 20.6, angle=90)
for y, s, c in [(515, "EZH2", NAVY), (538, "H3K27me3", EB), (559, "SUZ12", EG), (580, "H3K4me3", EO)]:
    L(1070, y, 1093, y, 3, c)
    T(1098, y, s, 20.7, "left")

# ---------- F ----------
F_GROUPS = [
    ([361, 448, 535, 622], [439, 526, 613, 700], [F1_EZH2, F1_K27, F1_SUZ, F1_K4], (707, 717), 751, [397, 488, 576, 667], 533, 545, "EZH2 solo", 346),
    ([821, 908, 995, 1082], [899, 987, 1073, 1160], [F2_EZH2, F2_K27, F2_SUZ, F2_K4], (1168, 1177), 1210, [859, 950, 1040, 1130], 999, 1005, "EZH2 ensemble", 806),
    ([1277, 1364, 1451, 1537], [1355, 1442, 1529, 1616], [F3_EZH2, F3_K27, F3_SUZ, F3_K4], (1623, 1635), 1667, [1315, 1405, 1492, 1583], 1453, 1461, "H3K27me3 solo", 1260),
]
for ls, rs, data, cb, sx, cx, ox, gx, name, nx in F_GROUPS:
    for l, r, d in zip(ls, rs, data):
        heat_profile((l, 842, r, 1116), d, inset=4)
    colorbar((cb[0], 842, cb[1], 1116))
    L(ls[0], 813, rs[-1], 813, 2.5)
    T(ox, 800, "OVCAR8")
    for x, s in zip(cx, ["EZH2", "H3K27me3", "SUZ12", "H3K4me3"]):
        T(x, 829, s, 20)
    T(gx, 1147, "gene distance (Kb)")
    T(nx, 970, name, angle=90)
    T(sx, 973, "signal intensity", angle=90)

# ---------- G ----------
xa, ya = axes((451, 1205, 724, 1485), [-5.5, 5.46], [-5.49, 5.49], [-5, -2.5, 0, 2.5, 5], ["−5.0", "−2.5", "0.0", "2.5", "5.0"],
              [-5, -2.5, 0, 2.5, 5], ["−5.0", "−2.5", "0.0", "2.5", "5.0"], frame="#333", lw=2.5, tick=20, ytick=18.5)
for px, py, c, op in [(GRAY_X, GRAY_Y, "#BDBDBD", .62), (BLUE_X, BLUE_Y, "#0A0AF0", .62), (ORANGE_X, ORANGE_Y, "#F9A825", .62), (GREEN_X, GREEN_Y, "#0F6A16", .72)]:
    fig.add_trace(go.Scatter(x=px, y=py, mode="markers", marker=dict(color=c, size=10, opacity=op, line=dict(width=0)), xaxis=xa, yaxis=ya, hoverinfo="skip"))
for vx, vy in [([-1, -1], [-5.49, 5.49]), ([1, 1], [-5.49, 5.49]), ([-5.5, 5.46], [.59, .59]), ([-5.5, 5.46], [-.59, -.59])]:
    fig.add_trace(go.Scatter(x=vx, y=vy, mode="lines", line=dict(color="#111", width=2.5, dash="9px,7px"), xaxis=xa, yaxis=ya, hoverinfo="skip"))
fig.add_trace(go.Scatter(x=[-4.8, 4.86], y=[-2.35, 2.35], mode="lines", line=dict(color="#111", width=3), xaxis=xa, yaxis=ya, hoverinfo="skip"))
fig.add_trace(go.Scatter(x=LEG_G_X, y=LEG_G_Y, mode="markers", marker=dict(color=LEG_G_COLORS, size=11), xaxis=xa, yaxis=ya, hoverinfo="skip"))
for y, s in zip([1218, 1244, 1270, 1296], LEG_G_LABELS):
    T(472, y, s, 18, "left")
T(668, 1232, "UP: 401", 18)
T(507, 1465, "DOWN: 617", 18)
T(678, 1448, "R=0.846", 18)
T(682, 1469, "<i>P</i>&lt;0.0001", 18)
T(580, 1524, "DZNep vs Ctrl_Log2FC")
T(393, 1343, "shEZH2 vs Ctrl_Log2FC", 20.5, angle=90)
arrow(545, 823, 1405)

# ---------- H ----------
circle(859, 1273, 1081, 1489, VGREEN)
circle(992, 1270, 1214, 1488, VBLUE)
T(935, 1224, "<b>EZH2 potential</b>", 24, color=VGREEN)
T(935, 1254, "<b>targets</b>", 24, color=VGREEN)
T(1142, 1227, "<b>EZH2_solo</b>", 24, color=VBLUE)
T(927, 1384, "366", 22)
T(1040, 1384, "251", 22)
T(1137, 1384, "5349", 22)
T(1037, 1518, "<i>P</i> &lt; 4.0×10<sup>-12</sup>", 26)
arrow(1054, 1284, 1405)
lines((1366, 1263, 1682, 1474), T_X, [T_K27, T_SUZ, T_EZH2, T_K4], [EB, EG, NAVY, EO], 4.2, ["-2", "TSS", "2Kb"], yt=[0, 1, 2, 3, 4], tick=20, ymin=-.12)
T(1524, 1243, "251 target genes", 26)
T(1325, 1372, "Average signal intensity", angle=90)
for y, s, c in [(1279, "EZH2", NAVY), (1301, "H3K27me3", EB), (1322, "SUZ12", EG), (1343, "H3K4me3", EO)]:
    L(1372, y, 1400, y, 3.5, c)
    T(1410, y, s, 21, "left")

# ---------- I ----------
cx, cy = 589, 1764
fig.add_trace(go.Pie(values=I_OUTER, sort=False, direction="clockwise", rotation=0, hole=.835, textinfo="none", hoverinfo="skip",
                     marker=dict(colors=I_OUTER_C, line=dict(color="white", width=2.5)),
                     domain=dict(x=[(cx - 134) / W, (cx + 134) / W], y=[1 - (cy + 134) / H, 1 - (cy - 134) / H])))
fig.add_trace(go.Pie(values=I_INNER, sort=False, direction="clockwise", rotation=0, hole=.31, textinfo="none", hoverinfo="skip",
                     marker=dict(colors=I_INNER_C, line=dict(color="white", width=2.5)),
                     domain=dict(x=[(cx - 112) / W, (cx + 112) / W], y=[1 - (cy + 112) / H, 1 - (cy - 112) / H])))
T(589, 1767, "Pathway", 18)
T(540, 1715, "Reactome", 21)
T(647, 1802, "KEGG", 21)
for x, y, s in [(450, 1636, "Metabolism (40%)"), (661, 1609, "Peroxisome (10%)"), (710, 1627, "Calcium signaling"), (710, 1641, "pathway (10%)"),
                (748, 1660, "Cell adhesion"), (748, 1674, "molecules (10%)"), (768, 1693, "PPAR signaling"), (768, 1709, "pathway (10%)"),
                (747, 1863, "Metabolism (60%)"), (382, 1717, "Diseases Of"), (382, 1731, "Glycosylation (10%)"), (383, 1777, "Integrin Cell Surface"),
                (383, 1791, "Interactions (10%)"), (383, 1822, "Extra−nuclear Estrogen"), (386, 1835, "Signaling (10%)"), (418, 1858, "Peroxisomal Protein"),
                (421, 1872, "Import (10%)"), (453, 1891, "Signaling By ERBB2"), (453, 1906, "TMD/JMD Mutants (10%)"), (542, 1926, "Signaling By"), (543, 1942, "MST1 (10%)")]:
    T(x, y, s, 15.5)
for a, b, c, d in [(610, 1627, 609, 1632), (652, 1640, 650, 1644), (688, 1666, 684, 1669), (713, 1701, 709, 1703), (698, 1843, 702, 1847), (506, 1651, 510, 1655),
                   (452, 1742, 456, 1743), (451, 1786, 456, 1785), (465, 1822, 468, 1826), (490, 1863, 493, 1859), (525, 1888, 528, 1884), (566, 1902, 568, 1897)]:
    L(a, b, c, d, 1.2)

xa, ya = axes((1077, 1627, 1111, 1894), [-.5, .5], [9.5, -.5], yt=list(range(10)), yl=PATHWAYS, tick=18, ticklen=4, lw=2)
fig.add_trace(go.Heatmap(x=[0], y=list(range(10)), z=[[v] for v in PATH_P], zmin=1, zmax=6, colorscale=WB, showscale=False, xaxis=xa, yaxis=ya, hoverinfo="skip"))
T(979, 1600, "Metabolic pathways", 25)
T(975, 1624, "Biosynthesis of", 18)
for y0, y1 in [(1627, 1779), (1790, 1883)]:
    L(857, y0, 857, y1, 1.8)
    L(857, y0, 863, y0, 1.8)
    L(857, y1, 863, y1, 1.8)
T(842, 1703, "KEGG", 19, angle=90)
T(842, 1835, "Reactome", 19, angle=90)
LOG_X = [1, 2, 3, 4, 5, 6]
xa, ya = axes((870, 1922, 1071, 1938), [1, 6], [0, 1], LOG_X, frame="#111", lw=2, tick=20, ticklen=5, xticks="inside", xstand=-3)
fig.add_trace(go.Heatmap(x=LOG_X, y=[0, 1], z=[LOG_X, LOG_X], zmin=1, zmax=6, colorscale=WB, zsmooth="best", showscale=False, xaxis=xa, yaxis=ya, hoverinfo="skip"))
T(971, 1908, "-log10(<i>P</i>-value)", 20.5)

# ---------- J ----------
T(1387, 1627, "TCGA &amp; GTEx data")
T(1556, 1627, "OVCAR8")
L(1262, 1643, 1511, 1643, 2.5)
L(1516, 1643, 1599, 1643, 2.5)
ANNOT_LEFT = [.5] * len(NORMAL[0]) + [1.5] * len(TUMOR[0])
ANNOT_RIGHT = [2.5, 2.5, 3.5, 3.5, 4.5, 4.5]


def jheat(box, z, y, scale, zmin, zmax, labels=None, gap=0, frame="#C8C8D8"):
    xa, ya = axes(box, [-.5, len(z[0]) - .5], [len(z) - .5, -.5], frame=frame, lw=1, tick=21, yt=y if labels else None, yl=labels, yside="right", ticklen=0)
    fig.add_trace(go.Heatmap(x=list(range(len(z[0]))), y=y, z=z, zmin=zmin, zmax=zmax, colorscale=scale, showscale=False, xgap=gap, ygap=gap, xaxis=xa, yaxis=ya, hoverinfo="skip"))


jheat((1262, 1649, 1511, 1664), [ANNOT_LEFT], [0], GROUPSCALE, 0, 5, frame="#FFFFFF")
jheat((1516, 1649, 1600, 1664), [ANNOT_RIGHT], [0], GROUPSCALE, 0, 5, frame="#FFFFFF")
full = [[v / 2 for v in n] + [v / 2.5 for v in t] for n, t in zip(NORMAL, TUMOR)]
itgenes = [f"<i>{g}</i>" for g in GENES]
jheat((1262, 1671, 1511, 1692), full[:1], [0], BWR, -2, 2)
jheat((1516, 1671, 1600, 1692), OVCAR[:1], [0], BWR, -2, 2, itgenes[:1], gap=1)
jheat((1262, 1698, 1511, 1909), full[1:], list(range(10)), BWR, -2, 2)
jheat((1516, 1698, 1600, 1909), OVCAR[1:], list(range(10)), BWR, -2, 2, itgenes[1:], gap=1)

T(1157, 1645, "Group", 21, "left")
xa, ya = axes((1158, 1657, 1177, 1755), [-.5, .5], [4.5, -.5], frame="#D0D0D0", lw=1)
fig.add_trace(go.Heatmap(x=[0], y=GROUP_CODE, z=[[c + .5] for c in GROUP_CODE], zmin=0, zmax=5, colorscale=GROUPSCALE, showscale=False, xaxis=xa, yaxis=ya, hoverinfo="skip"))
for y, s in zip([1670, 1690, 1708, 1728, 1748], GROUP_NAMES):
    T(1183, y, s, 20.5, "left")
xa, ya = axes((1176, 1768, 1188, 1906), [0, 1], [-2.05, 2.0], yt=[-2, -1, 0, 1, 2], yl=["−2", "−1", "0", "1", "2"], frame="#FFFFFF", lw=0, tick=20, ticklen=0, yside="right")
fig.add_trace(go.Heatmap(x=[0, 1], y=ZSCORE_BAR, z=[[v, v] for v in ZSCORE_BAR], zmin=-2, zmax=2, colorscale=BWR, showscale=False, zsmooth="best", xaxis=xa, yaxis=ya, hoverinfo="skip"))
T(1164, 1837, "z-score", 20, angle=90)

layout["annotations"] = annots
layout["shapes"] = shapes
fig.update_layout(**layout)
fig.write_html("out.html", post_script="document.body.style.margin='0';document.body.style.overflow='hidden';", config=dict(displayModeBar=False))
